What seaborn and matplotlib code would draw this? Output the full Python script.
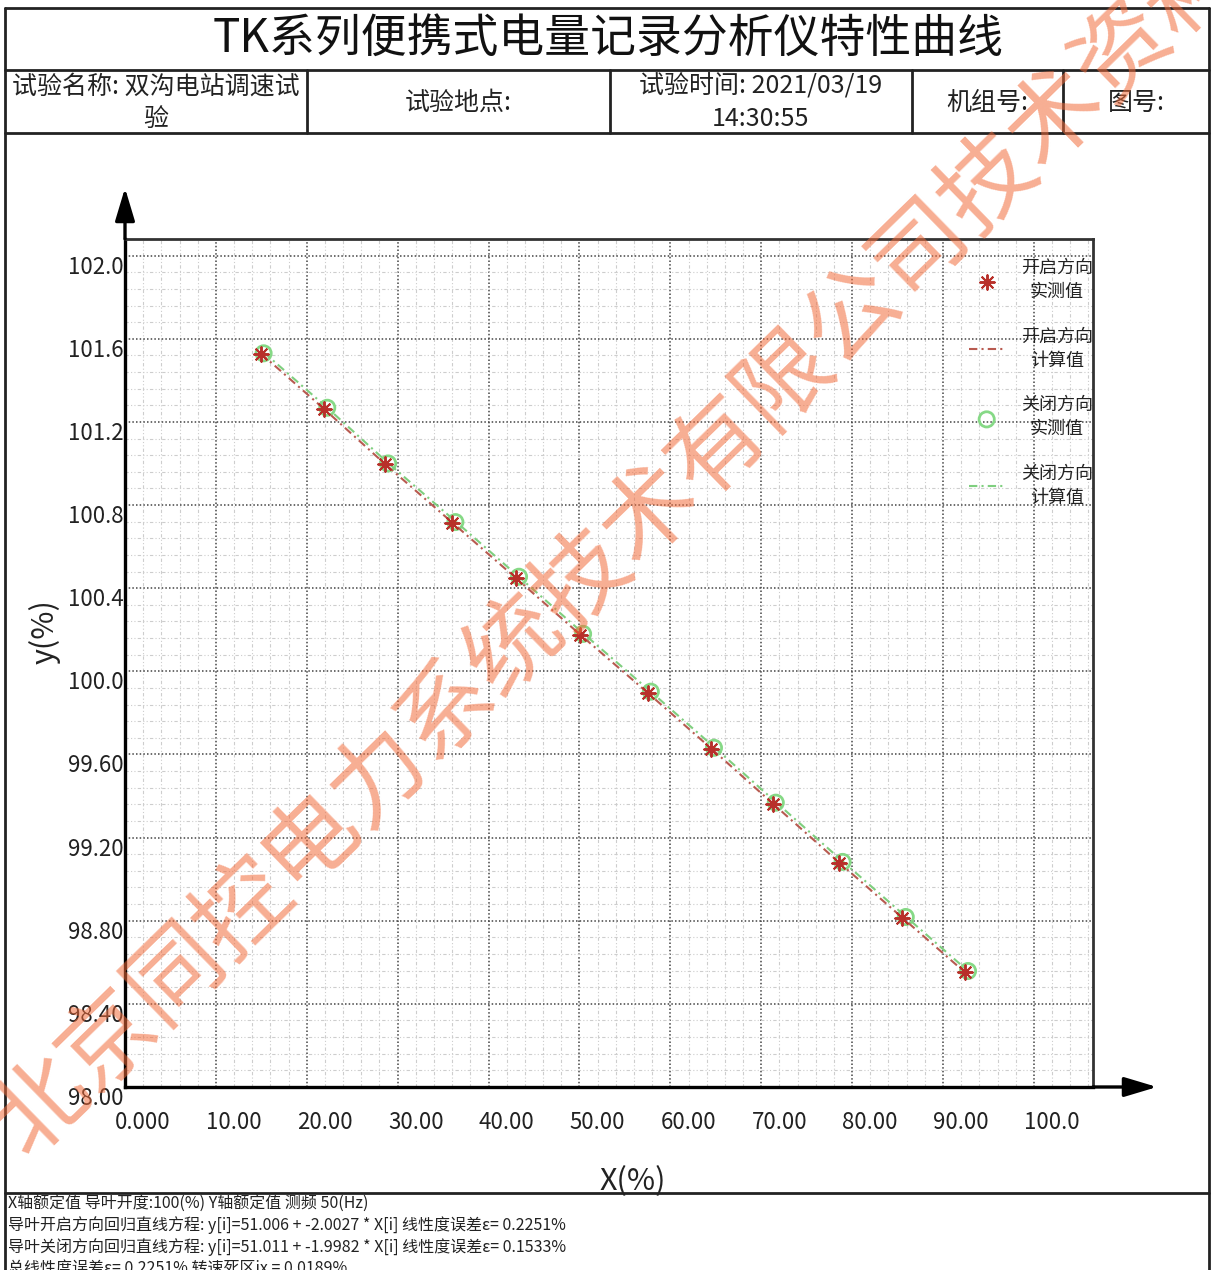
import numpy as np
import pandas as pd
import seaborn as sns
import matplotlib
matplotlib.use("Agg")
import matplotlib.pyplot as plt
import matplotlib.transforms as mtrans
from matplotlib.lines import Line2D
from matplotlib.ticker import MultipleLocator

# ---------------- data ----------------
open_x = [14.92, 21.91, 28.59, 36.00, 43.00, 50.04, 57.53, 64.46, 71.24, 78.57, 85.54, 92.40]
open_y = [101.527, 101.264, 100.996, 100.715, 100.450, 100.177, 99.898, 99.628, 99.363, 99.078, 98.813, 98.554]
open_calc_y = [101.530, 101.262, 100.998, 100.716, 100.449, 100.178, 99.896, 99.630, 99.365, 99.080, 98.814, 98.552]

close_x = [15.25, 22.25, 28.95, 36.35, 43.35, 50.40, 57.85, 64.80, 71.60, 78.95, 85.90, 92.75]
close_y = [101.530, 101.268, 101.000, 100.718, 100.455, 100.180, 99.902, 99.632, 99.368, 99.083, 98.818, 98.558]
close_calc_y = [101.535, 101.268, 101.002, 100.722, 100.454, 100.183, 99.902, 99.636, 99.371, 99.086, 98.820, 98.558]

x_tick_vals = [0, 10, 20, 30, 40, 50, 60, 70, 80, 90, 100]
x_tick_labels = ["0.000", "10.00", "20.00", "30.00", "40.00", "50.00", "60.00", "70.00", "80.00", "90.00", "100.0"]
y_tick_vals = [98.0, 98.4, 98.8, 99.2, 99.6, 100.0, 100.4, 100.8, 101.2, 101.6, 102.0]
y_tick_labels = ["98.00", "98.40", "98.80", "99.20", "99.60", "100.0", "100.4", "100.8", "101.2", "101.6", "102.0"]

legend_labels = ["开启方向\n实测值", "开启方向\n计算值", "关闭方向\n实测值", "关闭方向\n计算值"]

title_text = "TK系列便携式电量记录分析仪特性曲线"
header_cells = ["试验名称: 双沟电站调速试\n验", "试验地点:", "试验时间: 2021/03/19\n14:30:55", "机组号:", "图号:"]
footer_lines = [
    "X轴额定值 导叶开度:100(%) Y轴额定值 测频 50(Hz)",
    "导叶开启方向回归直线方程: y[i]=51.006 + -2.0027 * X[i] 线性度误差ε= 0.2251%",
    "导叶关闭方向回归直线方程: y[i]=51.011 + -1.9982 * X[i] 线性度误差ε= 0.1533%",
    "总线性度误差ε= 0.2251% 转速死区ix = 0.0189%",
]
watermark = "北京同控电力系统技术有限公司技术资料"

# ---------------- style ----------------
sns.set_style("white")
plt.rcParams["font.family"] = ["Noto Sans CJK SC", "DejaVu Sans"]
plt.rcParams["axes.unicode_minus"] = False

W, H = 1211, 1270
fig = plt.figure(figsize=(W / 100, H / 100), dpi=100)
fig.patch.set_facecolor("white")

def fx(px):
    return px / W

def fy(py):
    return 1 - py / H

# ---------------- page frame / header table ----------------
def hline(y, x0=5, x1=1209, lw=2.0, color="#222222"):
    fig.add_artist(Line2D([fx(x0), fx(x1)], [fy(y), fy(y)], lw=lw, color=color))

def vline(x, y0, y1, lw=2.0, color="#222222"):
    fig.add_artist(Line2D([fx(x), fx(x)], [fy(y0), fy(y1)], lw=lw, color=color))

hline(8)
hline(70)
hline(133)
hline(1193)
vline(5, 8, 1270)
vline(1209, 8, 1270)
for xd in [307, 610, 912, 1063]:
    vline(xd, 70, 133)

fig.text(fx(608), fy(39), title_text, ha="center", va="center", fontsize=33, color="#111111")
cell_centers = [156, 458, 761, 987, 1136]
for cx, txt in zip(cell_centers, header_cells):
    fig.text(fx(cx), fy(103), txt, ha="center", va="center", fontsize=18, color="#222222",
             linespacing=1.3, multialignment="center")

for i, line in enumerate(footer_lines):
    fig.text(fx(8), fy(1204 + i * 21.5), line, ha="left", va="center", fontsize=11.5, color="#222222")

# ---------------- axes ----------------
ax_left, ax_right, ax_top, ax_bottom = 125, 1093, 239, 1087
ax = fig.add_axes([fx(ax_left), fy(ax_bottom), (ax_right - ax_left) / W, (ax_bottom - ax_top) / H])
ax.set_facecolor("white")

red = "#b8302a"
red_line = "#b85a50"
green = "#86d986"
green_line = "#7fcf7f"

sns.scatterplot(x=close_x, y=close_y, ax=ax, marker="o", s=120, facecolor="none",
                edgecolor=green, linewidth=2.0, label=legend_labels[2], zorder=3)
sns.lineplot(x=open_x, y=open_calc_y, ax=ax, color=red_line, linestyle=(0, (4, 2, 1, 2)),
             linewidth=1.5, sort=False, estimator=None, label=legend_labels[1], zorder=4)
sns.lineplot(x=close_x, y=close_calc_y, ax=ax, color=green_line, linestyle=(0, (4, 2, 1, 2)),
             linewidth=1.5, sort=False, estimator=None, label=legend_labels[3], zorder=4)
sns.scatterplot(x=open_x, y=open_y, ax=ax, marker=(8, 2, 0), s=110, color=red,
                linewidth=1.4, label=legend_labels[0], zorder=5)

ax.set_xlim(0, 106.5)
ax.set_ylim(98.0, 102.08)
ax.set_xticks(x_tick_vals)
ax.set_xticklabels(x_tick_labels)
ax.set_yticks(y_tick_vals)
ax.set_yticklabels(y_tick_labels)
ax.xaxis.set_minor_locator(MultipleLocator(2))
ax.yaxis.set_minor_locator(MultipleLocator(0.08))

ax.tick_params(axis="both", which="major", direction="in", length=6.5, width=1.6, color="black",
               labelsize=16, labelcolor="#222222")
ax.tick_params(axis="both", which="minor", direction="in", length=3.6, width=1.6, color="black")
ax.tick_params(axis="x", which="major", pad=17)
ax.tick_params(axis="y", which="major", pad=1)
ax.tick_params(top=False, right=False, which="both")

ax.grid(True, which="major", color="#444444", linestyle=(0, (1, 1.4)), linewidth=1.1)
ax.grid(True, which="minor", color="#cdcdcd", linestyle=(0, (3, 2, 1, 2, 1, 2)), linewidth=0.8)
ax.set_axisbelow(True)

for side in ["left", "bottom"]:
    ax.spines[side].set_linewidth(2.4)
    ax.spines[side].set_color("black")
for side in ["top", "right"]:
    ax.spines[side].set_linewidth(2.0)
    ax.spines[side].set_color("#333333")

# tick labels are drawn shifted in the reference
dx = mtrans.ScaledTranslation(18 / 100, 0, fig.dpi_scale_trans)
for lab in ax.get_xticklabels():
    lab.set_transform(lab.get_transform() + dx)
dy = mtrans.ScaledTranslation(0, -9 / 100, fig.dpi_scale_trans)
for lab in ax.get_yticklabels():
    lab.set_transform(lab.get_transform() + dy)

# axis labels
ax.set_xlabel("X(%)", fontsize=22, color="#222222")
ax.set_ylabel("y(%)", fontsize=22, color="#222222")
ax.xaxis.set_label_coords((633 - ax_left) / (ax_right - ax_left), -(1182 - ax_bottom) / (ax_bottom - ax_top))
ax.xaxis.label.set_va("center")
ax.yaxis.set_label_coords((45 - ax_left) / (ax_right - ax_left), (ax_bottom - 632) / (ax_bottom - ax_top))
ax.yaxis.label.set_va("center")

# axis arrows
arrow_kw = dict(arrowstyle="-|>,head_length=2.0,head_width=0.6", lw=2.4, color="black",
                shrinkA=0, shrinkB=0)
ax.annotate("", xy=(0, 1 + (ax_top - 188) / (ax_bottom - ax_top)), xytext=(0, 1),
            xycoords="axes fraction", textcoords="axes fraction", arrowprops=arrow_kw,
            annotation_clip=False)
ax.annotate("", xy=(1 + (1157 - ax_right) / (ax_right - ax_left), 0), xytext=(1, 0),
            xycoords="axes fraction", textcoords="axes fraction", arrowprops=arrow_kw,
            annotation_clip=False)

# legend
handles, labels = ax.get_legend_handles_labels()
order = [labels.index(l) for l in legend_labels]
leg = ax.legend([handles[i] for i in order], [labels[i] for i in order],
                loc="upper right", bbox_to_anchor=(1.0, 1 - 20 / (ax_bottom - ax_top)),
                frameon=False, fontsize=13, borderpad=0, borderaxespad=0,
                handlelength=2.0, handletextpad=0.9, labelspacing=1.45)
for t in leg.get_texts():
    t.set_multialignment("center")
    t.set_linespacing(1.45)
    t.set_color("#222222")

# watermark
fig.text(fx(8), fy(1140), watermark, rotation=44.3, rotation_mode="anchor", ha="left", va="center",
         fontsize=68, color="#f26b3a", alpha=0.55, zorder=10)

fig.savefig("out.png", dpi=100, facecolor="white")
